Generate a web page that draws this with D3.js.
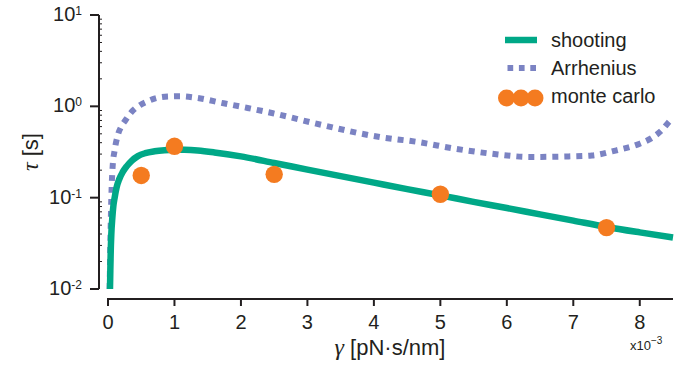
<!DOCTYPE html>
<html>
<head>
<meta charset="utf-8">
<script src="https://cdn.jsdelivr.net/npm/d3@7"></script>
<style>
  body { margin: 0; background: #fff; }
  svg { display: block; font-family: "Liberation Sans", Arial, sans-serif; }
</style>
</head>
<body>
<svg id="chart" width="697" height="367"></svg>
<script>
// gamma values are in units of 1e-3 pN.s/nm
const shootingGamma = [0.03, 0.035, 0.04, 0.05, 0.065, 0.08, 0.1, 0.13, 0.17, 0.22, 0.28, 0.36, 0.45, 0.56, 0.7, 0.85, 1.0, 1.15, 1.35, 1.6, 2.0, 2.5, 3.0, 3.5, 4.0, 4.5, 5.0, 5.5, 6.0, 6.5, 7.0, 7.5, 8.0, 8.5];
const shootingTau = [0.010, 0.016, 0.024, 0.04, 0.06, 0.08, 0.1, 0.13, 0.16, 0.19, 0.22, 0.255, 0.285, 0.307, 0.322, 0.331, 0.335, 0.334, 0.328, 0.313, 0.283, 0.24, 0.203, 0.172, 0.146, 0.124, 0.106, 0.09, 0.077, 0.0656, 0.056, 0.0478, 0.0417, 0.0367];

const arrheniusGamma = [0.025, 0.035, 0.045, 0.055, 0.07, 0.1, 0.15, 0.2, 0.26, 0.35, 0.48, 0.6, 0.71, 0.9, 1.1, 1.3, 1.74, 2.1, 2.48, 3.24, 4.09, 4.67, 5.22, 5.77, 6.35, 6.93, 7.28, 7.65, 8.0, 8.18, 8.33, 8.46, 8.5];
const arrheniusTau = [0.01, 0.03, 0.07, 0.13, 0.22, 0.33, 0.49, 0.6, 0.7, 0.86, 1.03, 1.14, 1.22, 1.28, 1.29, 1.25, 1.08, 0.96, 0.84, 0.62, 0.461, 0.406, 0.344, 0.303, 0.279, 0.283, 0.29, 0.33, 0.39, 0.45, 0.546, 0.70, 0.74];

const mcGamma = [0.5, 1.0, 2.5, 5.0, 7.5];
const mcTau = [0.175, 0.365, 0.18, 0.109, 0.047];

const xTicks = [0, 1, 2, 3, 4, 5, 6, 7, 8];
const yTickExp = [1, 0, -1, -2];

const green = "#00a887";
const lilac = "#7b83c3";
const orange = "#f47b20";
const ink = "#231f20";

const svg = d3.select("#chart");

const x = d3.scaleLinear().domain([0, 8.5]).range([108, 673]);
const y = d3.scaleLog().domain([0.01, 10]).range([289, 15]);

// y axis (offset to the left of the x range)
const yAxisX = 99;
const yAxis = svg.append("g");
yAxis.append("line")
  .attr("x1", yAxisX).attr("x2", yAxisX)
  .attr("y1", y(10)).attr("y2", y(0.01))
  .attr("stroke", ink).attr("stroke-width", 2);

yTickExp.forEach(e => {
  const v = Math.pow(10, e);
  yAxis.append("line")
    .attr("x1", yAxisX - 9).attr("x2", yAxisX)
    .attr("y1", y(v)).attr("y2", y(v))
    .attr("stroke", ink).attr("stroke-width", 2);
  const t = yAxis.append("text")
    .attr("x", 82).attr("y", y(v) + 6)
    .attr("text-anchor", "end")
    .attr("fill", ink)
    .style("font-size", "20px");
  t.append("tspan").text("10");
  t.append("tspan").attr("dy", -6).style("font-size", "12px").text(String(e));
});

// minor log ticks, drawn inward
for (let e = -2; e < 1; e++) {
  for (let m = 2; m <= 9; m++) {
    const v = m * Math.pow(10, e);
    yAxis.append("line")
      .attr("x1", yAxisX).attr("x2", yAxisX + 3)
      .attr("y1", y(v)).attr("y2", y(v))
      .attr("stroke", ink).attr("stroke-width", 1);
  }
}

// x axis
const xAxisY = 299;
const xAxis = svg.append("g");
xAxis.append("line")
  .attr("x1", x(0) - 1).attr("x2", x(8.5))
  .attr("y1", xAxisY).attr("y2", xAxisY)
  .attr("stroke", ink).attr("stroke-width", 2);
xTicks.forEach(v => {
  xAxis.append("line")
    .attr("x1", x(v)).attr("x2", x(v))
    .attr("y1", xAxisY).attr("y2", xAxisY + 7)
    .attr("stroke", ink).attr("stroke-width", 2);
  xAxis.append("text")
    .attr("x", x(v)).attr("y", xAxisY + 30)
    .attr("text-anchor", "middle")
    .attr("fill", ink)
    .style("font-size", "20px")
    .text(v);
});

// axis labels
const xl = svg.append("text")
  .attr("x", 390).attr("y", 355)
  .attr("text-anchor", "middle")
  .attr("fill", ink)
  .style("font-size", "22px");
xl.append("tspan").style("font-family", "'Liberation Serif', serif").style("font-style", "italic").style("font-size", "24px").text("γ");
xl.append("tspan").text(" [pN·s/nm]");

const sc = svg.append("text")
  .attr("x", 630).attr("y", 350)
  .attr("fill", ink)
  .style("font-size", "13px");
sc.append("tspan").text("x10");
sc.append("tspan").attr("dy", -6).style("font-size", "10px").text("−3");

const yl = svg.append("text")
  .attr("transform", "translate(38,152) rotate(-90)")
  .attr("text-anchor", "middle")
  .attr("fill", ink)
  .style("font-size", "22px");
yl.append("tspan").style("font-family", "'Liberation Serif', serif").style("font-style", "italic").style("font-size", "24px").text("τ");
yl.append("tspan").text(" [s]");

// curves
const line = d3.line()
  .x(d => x(d[0]))
  .y(d => y(d[1]))
  .curve(d3.curveMonotoneX);

svg.append("path")
  .attr("d", line(d3.zip(arrheniusGamma, arrheniusTau)))
  .attr("fill", "none")
  .attr("stroke", lilac)
  .attr("stroke-width", 6)
  .attr("stroke-dasharray", "6,6");

svg.append("path")
  .attr("d", line(d3.zip(shootingGamma, shootingTau)))
  .attr("fill", "none")
  .attr("stroke", green)
  .attr("stroke-width", 6.5);

svg.append("g")
  .selectAll("circle")
  .data(d3.zip(mcGamma, mcTau))
  .join("circle")
  .attr("cx", d => x(d[0]))
  .attr("cy", d => y(d[1]))
  .attr("r", 8.7)
  .attr("fill", orange);

// legend
const legend = svg.append("g");
legend.append("line")
  .attr("x1", 505).attr("x2", 537).attr("y1", 40).attr("y2", 40)
  .attr("stroke", green).attr("stroke-width", 6.5);
legend.append("line")
  .attr("x1", 507.5).attr("x2", 537).attr("y1", 68).attr("y2", 68)
  .attr("stroke", lilac).attr("stroke-width", 6)
  .attr("stroke-dasharray", "5.7,5.7");
[506.5, 521, 535].forEach(cx => {
  legend.append("circle").attr("cx", cx).attr("cy", 98).attr("r", 8.5).attr("fill", orange);
});
const labels = [["shooting", 47], ["Arrhenius", 75], ["monte carlo", 103]];
labels.forEach(([txt, by]) => {
  legend.append("text")
    .attr("x", 551).attr("y", by)
    .attr("fill", ink)
    .style("font-size", "20px")
    .text(txt);
});
</script>
</body>
</html>
